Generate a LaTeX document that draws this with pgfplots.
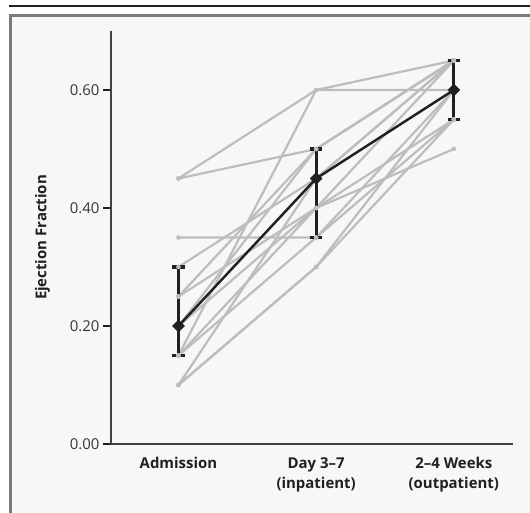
\documentclass[border=0pt]{standalone}
\usepackage{fontspec}
\setmainfont{Open Sans}
\usepackage{pgfplots}
\pgfplotsset{compat=1.18}
\definecolor{frameg}{HTML}{7A7A7A}
\definecolor{bgg}{HTML}{F7F7F7}
\definecolor{lg}{HTML}{BDBDBD}
\definecolor{dk}{HTML}{231F20}
\begin{document}
\begin{tikzpicture}[x=1bp,y=1bp]
\useasboundingbox (0,0) rectangle (530,513);
\clip (0,0) rectangle (530,513);
\fill[white] (0,0) rectangle (530,513);
\draw[line width=1.4bp, dk] (9,507) -- (545,507);
\draw[line width=3bp, frameg, fill=bgg] (10.5,-10) rectangle (545,497.5);
\begin{axis}[
  at={(111bp,69bp)}, anchor=south west,
  scale only axis, width=402bp, height=413bp,
  xmin=-0.49, xmax=2.43, ymin=0, ymax=0.7,
  axis x line*=bottom, axis y line*=left,
  axis line style={-, line width=1.1bp, draw=dk!85},
  xtick={0,1,2},
  xticklabels={Admission, Day 3–7\\(inpatient), 2–4 Weeks\\(outpatient)},
  xticklabel style={align=center, font=\fontsize{15}{20}\selectfont\bfseries, text=dk, yshift=-2bp},
  x tick style={draw=none},
  ytick={0,0.2,0.4,0.6},
  yticklabels={0.00,0.20,0.40,0.60},
  yticklabel style={font=\fontsize{15}{18}\selectfont, text=dk!90},
  y tick style={line width=1.1bp, draw=dk},
  tick align=outside, major tick length=8bp,
  ylabel={Ejection Fraction},
  ylabel style={font=\fontsize{15}{18}\selectfont\bfseries, text=dk, yshift=13bp},
  clip=false,
  pt/.style={color=lg, line width=2.2bp, mark=*, mark size=2bp, mark options={fill=lg, draw=lg, line width=0.5bp}},
]
% individual patients
\addplot[pt] coordinates {(0,0.45) (1,0.60) (2,0.65)};
\addplot[pt] coordinates {(0,0.45) (1,0.50) (2,0.65)};
\addplot[pt] coordinates {(0,0.35) (1,0.35) (2,0.55)};
\addplot[pt] coordinates {(0,0.15) (1,0.60) (2,0.60)};
\addplot[pt] coordinates {(0,0.10) (1,0.30) (2,0.60)};
\addplot[pt] coordinates {(0,0.30) (1,0.45) (2,0.65)};
\addplot[pt] coordinates {(0,0.25) (1,0.50) (2,0.65)};
\addplot[pt] coordinates {(0,0.25) (1,0.40) (2,0.50)};
\addplot[pt] coordinates {(0,0.20) (1,0.45) (2,0.60)};
\addplot[pt] coordinates {(0,0.20) (1,0.40) (2,0.55)};
\addplot[pt] coordinates {(0,0.15) (1,0.40) (2,0.65)};
\addplot[pt] coordinates {(0,0.15) (1,0.35) (2,0.60)};
\addplot[pt] coordinates {(0,0.10) (1,0.30) (2,0.55)};
\addplot[pt] coordinates {(0,0.10) (1,0.45) (2,0.65)};
\addplot[pt] coordinates {(0,0.20) (1,0.50) (2,0.65)};
% median with interquartile range
\addplot[color=dk, line width=2.4bp, mark=none,
  error bars/.cd, y dir=both, y explicit,
  error bar style={line width=3.2bp, color=dk, solid},
  error mark options={rotate=90, mark size=6.2bp, line width=3.2bp, color=dk, solid}]
  coordinates {
  (0,0.20) += (0,0.10) -= (0,0.05)
  (1,0.45) += (0,0.05) -= (0,0.10)
  (2,0.60) += (0,0.05) -= (0,0.05)
  };
\addplot[only marks, mark=square*, mark size=4.2bp,
  mark options={fill=dk, draw=dk, line width=0.5bp, rotate=45}]
  coordinates {(0,0.20) (1,0.45) (2,0.60)};
\end{axis}
\end{tikzpicture}
\end{document}
